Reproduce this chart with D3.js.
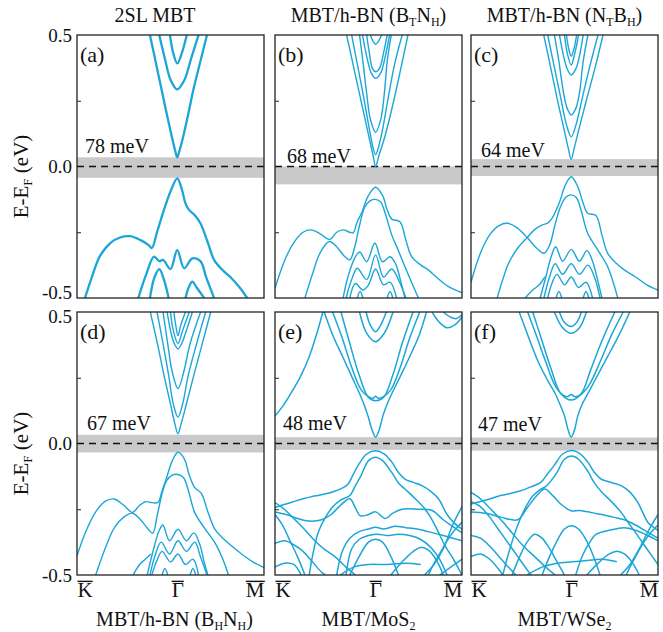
<!DOCTYPE html>
<html>
<head>
<meta charset="utf-8">
<script src="https://cdn.jsdelivr.net/npm/d3@7"></script>
<style>
  body { margin: 0; background: #fff; }
  svg { display: block; }
  text { font-family: "Liberation Serif", "Times New Roman", serif; fill: #111; }
</style>
</head>
<body>
<div id="chart"></div>
<script>
// Band structures: each band is a list of [k, E] pairs,
// k runs 0 (K) .. GAMMA_K (Gamma) .. 1 (M), E in eV relative to E_F.
const GAMMA_K = 0.536;

const bandsA = [
  [[0.39,0.5],[0.42,0.40],[0.45,0.30],[0.48,0.20],[0.505,0.12],[0.525,0.06],[0.536,0.035],[0.548,0.06],[0.57,0.12],[0.595,0.20],[0.625,0.30],[0.66,0.40],[0.695,0.5]],
  [[0.44,0.5],[0.47,0.41],[0.50,0.33],[0.536,0.293],[0.575,0.33],[0.61,0.41],[0.65,0.5]],
  [[0.497,0.5],[0.515,0.43],[0.536,0.392],[0.56,0.43],[0.587,0.5]],
  [[0.043,-0.5],[0.08,-0.42],[0.123,-0.34],[0.18,-0.29],[0.23,-0.27],[0.283,-0.265],[0.34,-0.28],[0.385,-0.30],[0.40,-0.31],[0.43,-0.245],[0.465,-0.165],[0.50,-0.095],[0.536,-0.045],[0.56,-0.085],[0.58,-0.14],[0.599,-0.165],[0.63,-0.185],[0.66,-0.216],[0.70,-0.29],[0.733,-0.355],[0.78,-0.395],[0.82,-0.42],[0.87,-0.46],[0.91,-0.5]],
  [[0.328,-0.5],[0.37,-0.41],[0.412,-0.343],[0.44,-0.36],[0.46,-0.355],[0.50,-0.39],[0.536,-0.318],[0.573,-0.387],[0.617,-0.349],[0.66,-0.36],[0.69,-0.42],[0.733,-0.5]],
  [[0.39,-0.5],[0.415,-0.42],[0.44,-0.39],[0.465,-0.43],[0.49,-0.5]],
  [[0.58,-0.5],[0.60,-0.455],[0.617,-0.438],[0.64,-0.46],[0.68,-0.5]]
];

const bandsB = [
  [[0.383,0.5],[0.42,0.38],[0.46,0.25],[0.50,0.12],[0.525,0.04],[0.538,0.0],[0.555,0.04],[0.59,0.12],[0.635,0.25],[0.675,0.38],[0.711,0.5]],
  [[0.41,0.5],[0.44,0.39],[0.475,0.26],[0.505,0.14],[0.525,0.07],[0.538,0.045],[0.552,0.07],[0.575,0.14],[0.605,0.26],[0.64,0.39],[0.68,0.5]],
  [[0.452,0.5],[0.47,0.40],[0.49,0.28],[0.51,0.18],[0.538,0.13],[0.566,0.18],[0.585,0.28],[0.60,0.40],[0.622,0.5]],
  [[0.468,0.5],[0.49,0.42],[0.515,0.355],[0.538,0.335],[0.565,0.355],[0.59,0.42],[0.613,0.5]],
  [[0.49,0.5],[0.505,0.43],[0.52,0.375],[0.538,0.36],[0.56,0.375],[0.58,0.43],[0.60,0.5]],
  [[0.51,0.5],[0.525,0.475],[0.538,0.465],[0.552,0.475],[0.57,0.5]],
  [[0.0,-0.463],[0.05,-0.36],[0.10,-0.29],[0.15,-0.25],[0.194,-0.241],[0.24,-0.255],[0.292,-0.277],[0.33,-0.25],[0.364,-0.241],[0.40,-0.25],[0.418,-0.252],[0.44,-0.21],[0.462,-0.178],[0.50,-0.11],[0.538,-0.079],[0.575,-0.11],[0.60,-0.165],[0.624,-0.2],[0.668,-0.21],[0.70,-0.28],[0.731,-0.343],[0.78,-0.375],[0.821,-0.394],[0.87,-0.425],[0.928,-0.457],[1.0,-0.48]],
  [[0.16,-0.5],[0.20,-0.41],[0.24,-0.33],[0.29,-0.285],[0.33,-0.305],[0.37,-0.34],[0.40,-0.355],[0.425,-0.31],[0.45,-0.23],[0.48,-0.155],[0.51,-0.13],[0.538,-0.125],[0.565,-0.135],[0.59,-0.18],[0.624,-0.26],[0.66,-0.32],[0.695,-0.381],[0.73,-0.44],[0.767,-0.5]],
  [[0.364,-0.5],[0.39,-0.42],[0.425,-0.35],[0.453,-0.325],[0.49,-0.362],[0.534,-0.292],[0.575,-0.362],[0.615,-0.343],[0.645,-0.37],[0.67,-0.43],[0.695,-0.5]],
  [[0.38,-0.5],[0.41,-0.43],[0.44,-0.387],[0.49,-0.43],[0.538,-0.336],[0.58,-0.42],[0.624,-0.39],[0.66,-0.43],[0.70,-0.5]],
  [[0.40,-0.5],[0.43,-0.445],[0.47,-0.47],[0.50,-0.45],[0.538,-0.39],[0.58,-0.45],[0.615,-0.44],[0.65,-0.5]],
  [[0.44,-0.5],[0.455,-0.475],[0.47,-0.5]],
  [[0.60,-0.5],[0.615,-0.475],[0.63,-0.5]]
];

const bandsC = [
  [[0.389,0.5],[0.425,0.38],[0.46,0.26],[0.495,0.15],[0.52,0.07],[0.536,0.027],[0.552,0.07],[0.58,0.15],[0.62,0.26],[0.665,0.38],[0.706,0.5]],
  [[0.41,0.5],[0.445,0.38],[0.48,0.26],[0.51,0.16],[0.536,0.113],[0.562,0.16],[0.595,0.26],[0.635,0.38],[0.679,0.5]],
  [[0.446,0.5],[0.47,0.40],[0.495,0.28],[0.515,0.22],[0.536,0.196],[0.56,0.22],[0.58,0.28],[0.60,0.40],[0.625,0.5]],
  [[0.473,0.5],[0.495,0.42],[0.515,0.37],[0.536,0.348],[0.56,0.37],[0.58,0.42],[0.60,0.5]],
  [[0.50,0.5],[0.515,0.43],[0.536,0.386],[0.555,0.43],[0.575,0.5]],
  [[0.51,0.5],[0.525,0.44],[0.536,0.42],[0.548,0.44],[0.565,0.5]],
  [[0.14,-0.5],[0.17,-0.43],[0.20,-0.37],[0.25,-0.31],[0.301,-0.27],[0.34,-0.24],[0.382,-0.222],[0.41,-0.215],[0.435,-0.195],[0.471,-0.14],[0.505,-0.07],[0.536,-0.039],[0.57,-0.075],[0.60,-0.14],[0.624,-0.178],[0.668,-0.186],[0.70,-0.26],[0.731,-0.33],[0.78,-0.37],[0.821,-0.394],[0.88,-0.42],[0.94,-0.45],[1.0,-0.47]],
  [[0.0,-0.44],[0.05,-0.33],[0.10,-0.26],[0.15,-0.225],[0.194,-0.216],[0.25,-0.235],[0.30,-0.27],[0.35,-0.31],[0.39,-0.33],[0.42,-0.30],[0.45,-0.22],[0.48,-0.15],[0.51,-0.115],[0.536,-0.108],[0.565,-0.12],[0.59,-0.17],[0.624,-0.254],[0.68,-0.32],[0.731,-0.381],[0.785,-0.5]],
  [[0.37,-0.5],[0.40,-0.42],[0.43,-0.34],[0.453,-0.305],[0.49,-0.36],[0.536,-0.315],[0.58,-0.36],[0.62,-0.32],[0.65,-0.36],[0.68,-0.44],[0.70,-0.5]],
  [[0.39,-0.5],[0.42,-0.42],[0.45,-0.37],[0.49,-0.41],[0.536,-0.37],[0.58,-0.41],[0.625,-0.375],[0.66,-0.42],[0.69,-0.5]],
  [[0.41,-0.5],[0.435,-0.44],[0.46,-0.41],[0.50,-0.45],[0.536,-0.42],[0.575,-0.46],[0.615,-0.44],[0.65,-0.5]],
  [[0.29,-0.5],[0.33,-0.47],[0.365,-0.45],[0.395,-0.42]],
  [[0.455,-0.5],[0.47,-0.475],[0.485,-0.5]],
  [[0.60,-0.5],[0.615,-0.475],[0.63,-0.5]]
];

const bandsD = [
  [[0.392,0.5],[0.43,0.38],[0.465,0.26],[0.50,0.15],[0.525,0.07],[0.54,0.037],[0.555,0.07],[0.585,0.15],[0.625,0.26],[0.67,0.38],[0.715,0.5]],
  [[0.428,0.5],[0.46,0.38],[0.49,0.26],[0.515,0.15],[0.54,0.10],[0.565,0.15],[0.595,0.26],[0.64,0.38],[0.688,0.5]],
  [[0.46,0.5],[0.485,0.38],[0.51,0.27],[0.54,0.209],[0.57,0.27],[0.605,0.38],[0.661,0.5]],
  [[0.482,0.5],[0.50,0.43],[0.52,0.38],[0.54,0.36],[0.56,0.38],[0.585,0.43],[0.617,0.5]],
  [[0.50,0.5],[0.515,0.43],[0.54,0.38],[0.565,0.43],[0.60,0.5]],
  [[0.518,0.5],[0.528,0.45],[0.54,0.41],[0.555,0.45],[0.58,0.5]],
  [[0.0,-0.427],[0.05,-0.33],[0.10,-0.26],[0.15,-0.22],[0.199,-0.211],[0.25,-0.235],[0.297,-0.262],[0.335,-0.235],[0.369,-0.221],[0.40,-0.225],[0.432,-0.224],[0.455,-0.18],[0.477,-0.135],[0.51,-0.065],[0.54,-0.033],[0.575,-0.06],[0.60,-0.12],[0.629,-0.167],[0.665,-0.19],[0.70,-0.26],[0.737,-0.326],[0.78,-0.36],[0.826,-0.389],[0.88,-0.42],[0.94,-0.45],[1.0,-0.472]],
  [[0.10,-0.5],[0.15,-0.40],[0.20,-0.32],[0.25,-0.28],[0.297,-0.265],[0.34,-0.29],[0.38,-0.325],[0.405,-0.341],[0.43,-0.27],[0.455,-0.19],[0.48,-0.14],[0.51,-0.12],[0.54,-0.118],[0.57,-0.13],[0.60,-0.19],[0.629,-0.262],[0.68,-0.32],[0.737,-0.377],[0.78,-0.44],[0.81,-0.5]],
  [[0.375,-0.5],[0.41,-0.40],[0.44,-0.33],[0.459,-0.31],[0.495,-0.37],[0.54,-0.326],[0.585,-0.37],[0.625,-0.34],[0.655,-0.38],[0.68,-0.45],[0.70,-0.5]],
  [[0.39,-0.5],[0.42,-0.42],[0.45,-0.375],[0.495,-0.42],[0.54,-0.37],[0.585,-0.41],[0.63,-0.375],[0.66,-0.43],[0.695,-0.5]],
  [[0.40,-0.5],[0.43,-0.44],[0.455,-0.41],[0.50,-0.45],[0.54,-0.42],[0.58,-0.46],[0.62,-0.44],[0.65,-0.5]],
  [[0.30,-0.5],[0.335,-0.46],[0.365,-0.44],[0.395,-0.42]],
  [[0.455,-0.5],[0.47,-0.475],[0.485,-0.5]],
  [[0.605,-0.5],[0.62,-0.475],[0.635,-0.5]]
];

const bandsE = [
  [[0.0,0.105],[0.04,0.14],[0.093,0.20],[0.14,0.26],[0.183,0.33],[0.22,0.41],[0.256,0.5]],
  [[0.263,0.5],[0.31,0.41],[0.362,0.33],[0.41,0.255],[0.452,0.19],[0.475,0.15],[0.497,0.105],[0.52,0.05],[0.538,0.024],[0.556,0.05],[0.577,0.105],[0.60,0.15],[0.625,0.19],[0.67,0.255],[0.72,0.33],[0.77,0.41],[0.81,0.5]],
  [[0.308,0.5],[0.36,0.40],[0.41,0.29],[0.46,0.205],[0.50,0.178],[0.525,0.172],[0.538,0.18],[0.552,0.172],[0.58,0.178],[0.62,0.205],[0.67,0.29],[0.72,0.40],[0.774,0.5]],
  [[0.353,0.5],[0.40,0.38],[0.45,0.26],[0.50,0.175],[0.538,0.163],[0.58,0.175],[0.63,0.26],[0.68,0.38],[0.738,0.5]],
  [[0.452,0.5],[0.49,0.42],[0.538,0.387],[0.585,0.42],[0.631,0.5]],
  [[0.487,0.5],[0.51,0.45],[0.538,0.425],[0.565,0.45],[0.595,0.5]],
  [[0.84,0.5],[0.88,0.46],[0.92,0.44],[0.96,0.45],[1.0,0.48]],
  [[0.90,0.5],[0.94,0.48],[0.97,0.475],[1.0,0.49]],
  [[0.0,-0.243],[0.086,-0.224],[0.15,-0.21],[0.211,-0.2],[0.3,-0.186],[0.36,-0.17],[0.391,-0.154],[0.42,-0.115],[0.444,-0.084],[0.49,-0.04],[0.538,-0.028],[0.585,-0.04],[0.624,-0.07],[0.66,-0.11],[0.695,-0.135],[0.74,-0.148],[0.785,-0.16],[0.83,-0.18],[0.875,-0.211],[0.92,-0.27],[0.955,-0.30],[1.0,-0.326]],
  [[0.183,-0.5],[0.20,-0.43],[0.23,-0.34],[0.27,-0.28],[0.31,-0.24],[0.35,-0.215],[0.40,-0.198],[0.43,-0.16],[0.46,-0.122],[0.50,-0.065],[0.538,-0.052],[0.575,-0.065],[0.624,-0.11],[0.66,-0.15],[0.695,-0.173],[0.75,-0.21],[0.803,-0.25],[0.84,-0.29],[0.875,-0.339],[0.91,-0.39],[0.946,-0.43],[1.0,-0.5]],
  [[0.0,-0.26],[0.06,-0.27],[0.12,-0.285],[0.18,-0.295],[0.25,-0.29],[0.30,-0.27],[0.35,-0.235],[0.40,-0.21],[0.43,-0.245],[0.456,-0.275],[0.50,-0.27],[0.538,-0.26],[0.59,-0.285],[0.63,-0.265],[0.68,-0.25],[0.76,-0.25],[0.84,-0.255],[0.90,-0.29],[0.96,-0.32],[1.0,-0.34]],
  [[0.33,-0.5],[0.36,-0.41],[0.40,-0.36],[0.45,-0.335],[0.50,-0.325],[0.538,-0.318],[0.58,-0.325],[0.64,-0.315],[0.70,-0.32],[0.76,-0.325],[0.82,-0.335],[0.90,-0.35],[1.0,-0.37]],
  [[0.38,-0.5],[0.41,-0.40],[0.45,-0.365],[0.50,-0.35],[0.55,-0.345],[0.60,-0.35],[0.66,-0.345],[0.72,-0.35],[0.78,-0.365],[0.84,-0.40],[0.88,-0.44],[0.92,-0.5]],
  [[0.40,-0.5],[0.45,-0.43],[0.50,-0.375],[0.538,-0.364],[0.575,-0.375],[0.62,-0.43],[0.66,-0.5]],
  [[0.0,-0.225],[0.05,-0.25],[0.10,-0.285],[0.14,-0.313],[0.20,-0.36],[0.26,-0.40],[0.32,-0.43],[0.38,-0.47],[0.43,-0.5]],
  [[0.0,-0.27],[0.04,-0.31],[0.08,-0.37],[0.12,-0.43],[0.16,-0.5]],
  [[0.0,-0.38],[0.05,-0.37],[0.10,-0.385],[0.15,-0.41],[0.20,-0.45],[0.25,-0.49],[0.27,-0.5]],
  [[0.0,-0.47],[0.05,-0.455],[0.10,-0.46],[0.14,-0.5]],
  [[0.35,-0.5],[0.42,-0.47],[0.50,-0.46],[0.60,-0.46],[0.70,-0.455],[0.78,-0.46]],
  [[0.62,-0.5],[0.68,-0.45],[0.74,-0.41],[0.78,-0.395],[0.82,-0.405],[0.86,-0.44],[0.90,-0.5]],
  [[0.80,-0.5],[0.85,-0.46],[0.90,-0.40],[0.95,-0.31],[1.0,-0.24]],
  [[1.0,-0.30],[0.96,-0.33],[0.92,-0.37],[0.88,-0.42],[0.84,-0.47],[0.82,-0.5]],
  [[0.88,-0.5],[0.94,-0.47],[1.0,-0.44]]
];

const bandsF = [
  [[0.258,0.5],[0.31,0.40],[0.36,0.31],[0.41,0.24],[0.45,0.19],[0.475,0.15],[0.50,0.105],[0.52,0.05],[0.536,0.024],[0.553,0.05],[0.571,0.105],[0.595,0.15],[0.625,0.19],[0.67,0.25],[0.73,0.33],[0.79,0.41],[0.849,0.5]],
  [[0.303,0.5],[0.35,0.41],[0.40,0.31],[0.45,0.22],[0.49,0.185],[0.515,0.178],[0.536,0.186],[0.557,0.178],[0.585,0.185],[0.63,0.22],[0.69,0.31],[0.75,0.41],[0.814,0.5]],
  [[0.33,0.5],[0.38,0.39],[0.43,0.28],[0.48,0.19],[0.536,0.165],[0.59,0.19],[0.64,0.28],[0.70,0.39],[0.769,0.5]],
  [[0.446,0.5],[0.49,0.44],[0.536,0.419],[0.58,0.44],[0.617,0.5]],
  [[0.473,0.5],[0.50,0.46],[0.536,0.445],[0.565,0.46],[0.59,0.5]],
  [[0.0,-0.23],[0.08,-0.215],[0.158,-0.198],[0.22,-0.188],[0.265,-0.18],[0.32,-0.165],[0.373,-0.148],[0.41,-0.115],[0.444,-0.084],[0.49,-0.04],[0.538,-0.027],[0.585,-0.04],[0.624,-0.07],[0.66,-0.11],[0.695,-0.135],[0.75,-0.148],[0.803,-0.16],[0.85,-0.185],[0.892,-0.224],[0.92,-0.265],[0.946,-0.30],[1.0,-0.33]],
  [[0.17,-0.5],[0.20,-0.42],[0.24,-0.33],[0.28,-0.26],[0.33,-0.2],[0.37,-0.175],[0.397,-0.165],[0.43,-0.14],[0.46,-0.11],[0.50,-0.06],[0.538,-0.048],[0.575,-0.06],[0.624,-0.105],[0.66,-0.15],[0.70,-0.185],[0.75,-0.22],[0.803,-0.262],[0.85,-0.31],[0.892,-0.351],[0.94,-0.40],[1.0,-0.46]],
  [[0.0,-0.26],[0.08,-0.265],[0.16,-0.28],[0.25,-0.29],[0.30,-0.245],[0.35,-0.2],[0.394,-0.173],[0.44,-0.2],[0.48,-0.23],[0.535,-0.256],[0.58,-0.255],[0.64,-0.262],[0.70,-0.27],[0.76,-0.28],[0.82,-0.29],[0.88,-0.31],[0.94,-0.335],[1.0,-0.36]],
  [[0.38,-0.5],[0.42,-0.43],[0.46,-0.37],[0.50,-0.325],[0.538,-0.313],[0.575,-0.325],[0.61,-0.36],[0.65,-0.42],[0.69,-0.5]],
  [[0.22,-0.5],[0.26,-0.43],[0.30,-0.375],[0.34,-0.345],[0.38,-0.36],[0.42,-0.40],[0.46,-0.45],[0.50,-0.5]],
  [[0.56,-0.5],[0.60,-0.42],[0.64,-0.37],[0.67,-0.345],[0.74,-0.33],[0.82,-0.32],[0.88,-0.33],[0.946,-0.35],[1.0,-0.37]],
  [[0.0,-0.186],[0.05,-0.21],[0.10,-0.245],[0.16,-0.29],[0.22,-0.34],[0.28,-0.39],[0.34,-0.43],[0.40,-0.47],[0.45,-0.5]],
  [[0.0,-0.22],[0.05,-0.24],[0.10,-0.28],[0.15,-0.33],[0.20,-0.38],[0.25,-0.43],[0.30,-0.48],[0.32,-0.5]],
  [[0.0,-0.35],[0.05,-0.36],[0.10,-0.39],[0.15,-0.43],[0.20,-0.47],[0.24,-0.5]],
  [[0.0,-0.43],[0.05,-0.42],[0.10,-0.44],[0.15,-0.48],[0.17,-0.5]],
  [[0.30,-0.5],[0.38,-0.47],[0.46,-0.455],[0.54,-0.45],[0.62,-0.445],[0.70,-0.44],[0.78,-0.45]],
  [[0.62,-0.5],[0.68,-0.455],[0.74,-0.42],[0.78,-0.41],[0.82,-0.42],[0.86,-0.45],[0.90,-0.5]],
  [[0.80,-0.5],[0.85,-0.46],[0.90,-0.40],[0.95,-0.33],[1.0,-0.27]],
  [[1.0,-0.31],[0.96,-0.34],[0.92,-0.38],[0.88,-0.43],[0.85,-0.47],[0.83,-0.5]]
];

const panelBands = [bandsA, bandsB, bandsC, bandsD, bandsE, bandsF];
const panelTags = ['(a)', '(b)', '(c)', '(d)', '(e)', '(f)'];
const gapLabels = ['78 meV', '68 meV', '64 meV', '67 meV', '48 meV', '47 meV'];
const gapLow  = [-0.043, -0.068, -0.036, -0.034, -0.024, -0.027];
const gapHigh = [ 0.035,  0.000,  0.028,  0.033,  0.024,  0.023];
const yTicks = [-0.5, 0, 0.5];
const yTickLabels = ['-0.5', '0.0', '0.5'];
const minorTicks = [-0.25, 0.25];
const kTicks = [0, GAMMA_K, 1];
const kLabels = ['K', '\u0393', 'M'];
// [text, isSubscript] runs
const topTitles = [
  [['2SL MBT', 0]],
  [['MBT/h-BN (B', 0], ['T', 1], ['N', 0], ['H', 1], [')', 0]],
  [['MBT/h-BN (N', 0], ['T', 1], ['B', 0], ['H', 1], [')', 0]]
];
const bottomTitles = [
  [['MBT/h-BN (B', 0], ['H', 1], ['N', 0], ['H', 1], [')', 0]],
  [['MBT/MoS', 0], ['2', 1]],
  [['MBT/WSe', 0], ['2', 1]]
];

// ---- layout ----
const W = 663, H = 632;
const colX = [77, 275, 471], rowY = [35, 312];
const pw = 187, ph = 263;
const BAND = '#1ba6d8';
const strokeW = [2.3, 1.4, 1.4, 1.4, 1.5, 1.5];
const labelDX = [8, 12, 10, 10, 8, 7];
const labelE  = [0.05, 0.013, 0.036, 0.052, 0.05, 0.046];

const svg = d3.select('#chart').append('svg').attr('width', W).attr('height', H);

const x = d3.scaleLinear().domain([0, 1]).range([0, pw]);
const y = d3.scaleLinear().domain([-0.5, 0.5]).range([ph, 0]);
const line = d3.line().x(d => x(d[0])).y(d => y(d[1])).curve(d3.curveCatmullRom.alpha(0.5));

function rich(sel, runs, big, small) {
  runs.forEach(([t, sub], i) => {
    const prevSub = i > 0 && runs[i - 1][1];
    const ts = sel.append('tspan').text(t).attr('font-size', sub ? small : big);
    if (sub && !prevSub) ts.attr('dy', 4);
    if (!sub && prevSub) ts.attr('dy', -4);
  });
}

svg.append('defs').append('clipPath').attr('id', 'clip')
  .append('rect').attr('width', pw).attr('height', ph);

panelBands.forEach((bands, i) => {
  const col = i % 3, row = Math.floor(i / 3);
  const g = svg.append('g').attr('transform', `translate(${colX[col]},${rowY[row]})`);

  g.append('rect')
    .attr('x', 0).attr('width', pw)
    .attr('y', y(gapHigh[i])).attr('height', y(gapLow[i]) - y(gapHigh[i]))
    .attr('fill', '#c9c9c9');

  g.append('line')
    .attr('x1', 0).attr('x2', pw).attr('y1', y(0)).attr('y2', y(0))
    .attr('stroke', '#111').attr('stroke-width', 1.5).attr('stroke-dasharray', '7,5');

  g.append('g').attr('clip-path', 'url(#clip)')
    .selectAll('path').data(bands).join('path')
      .attr('d', line)
      .attr('fill', 'none')
      .attr('stroke', BAND)
      .attr('stroke-width', strokeW[i])
      .attr('stroke-linejoin', 'round');

  // small inward ticks at +-0.25
  g.append('g').call(d3.axisRight(y).tickValues(minorTicks).tickSize(4).tickFormat(''))
    .call(a => a.select('.domain').remove())
    .call(a => a.selectAll('line').attr('stroke', '#222'));

  g.append('rect').attr('width', pw).attr('height', ph)
    .attr('fill', 'none').attr('stroke', '#222').attr('stroke-width', 1.3);

  g.append('text').attr('x', 3).attr('y', 27).attr('font-size', 22).text(panelTags[i]);
  g.append('text').attr('x', labelDX[i]).attr('y', y(labelE[i]))
    .attr('font-size', 20).text(gapLabels[i]);

  if (col === 0) {
    const ax = g.append('g').call(d3.axisLeft(y).tickValues(yTicks).tickSize(0).tickPadding(5)
      .tickFormat((d, j) => yTickLabels[j]));
    ax.select('.domain').remove();
    ax.selectAll('text').attr('font-size', 19).attr('font-family', '"Liberation Serif", serif').attr('fill', '#111')
      .attr('dy', d => (row === 0 && d === -0.5) ? '0.05em' : (row === 1 && d === 0.5) ? '0.55em' : '0.32em');

    const yl = svg.append('text')
      .attr('transform', `translate(28,${rowY[row] + ph / 2 + 10}) rotate(-90)`)
      .attr('text-anchor', 'middle');
    rich(yl, [['E-E', 0], ['F', 1], [' (eV)', 0]], 21, 13);
  }

  if (row === 1) {
    const ax = g.append('g').attr('transform', `translate(0,${ph})`)
      .call(d3.axisBottom(x).tickValues(kTicks).tickSize(0).tickPadding(6)
        .tickFormat((d, j) => kLabels[j]));
    ax.select('.domain').remove();
    ax.selectAll('text').attr('font-size', 21).attr('font-family', '"Liberation Serif", serif')
      .attr('fill', '#111').attr('dy', '0.78em')
      .attr('text-anchor', (d, j) => j === 0 ? 'start' : j === 2 ? 'end' : 'middle');
    ax.selectAll('.tick').each(function() {
      const t = d3.select(this).select('text');
      const b = t.node().getBBox();
      d3.select(this).append('line')
        .attr('x1', b.x).attr('x2', b.x + b.width)
        .attr('y1', b.y + 3).attr('y2', b.y + 3)
        .attr('stroke', '#111').attr('stroke-width', 1.4);
    });
  }
});

topTitles.forEach((runs, c) => {
  const cx = c === 0 ? colX[0] + 78 : colX[c] + pw / 2;
  const t = svg.append('text').attr('x', cx).attr('y', 22).attr('text-anchor', 'middle');
  rich(t, runs, 20, 12);
});

bottomTitles.forEach((runs, c) => {
  const cx = colX[c] + pw / 2 + (c === 0 ? 4 : 0);
  const t = svg.append('text').attr('x', cx).attr('y', 626).attr('text-anchor', 'middle');
  rich(t, runs, 20, 12);
});
</script>
</body>
</html>
